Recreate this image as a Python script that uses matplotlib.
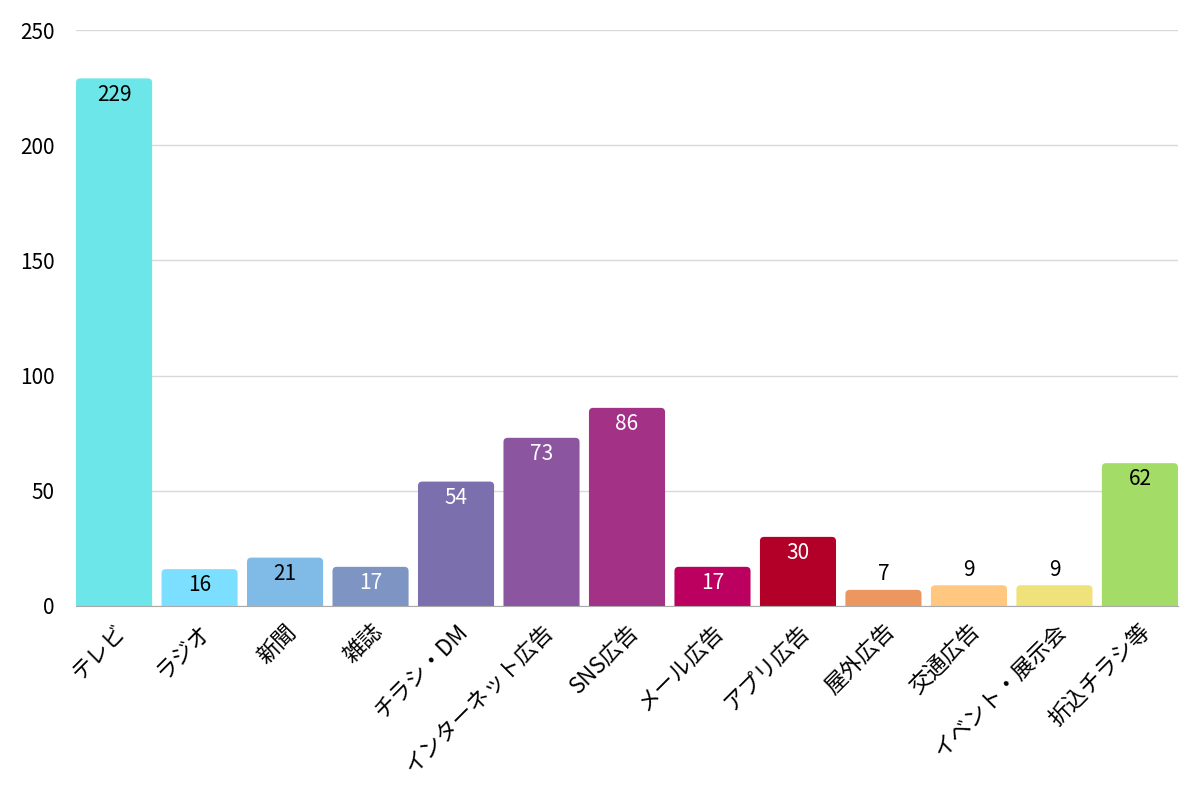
import matplotlib
matplotlib.use('Agg')
import matplotlib.pyplot as plt
from matplotlib.patches import FancyBboxPatch

plt.rcParams['font.family'] = ['Noto Sans CJK JP', 'DejaVu Sans']

categories = ['テレビ', 'ラジオ', '新聞', '雑誌', 'チラシ・DM', 'インターネット広告', 'SNS広告',
              'メール広告', 'アプリ広告', '屋外広告', '交通広告', 'イベント・展示会', '折込チラシ等']
values = [229, 16, 21, 17, 54, 73, 86, 17, 30, 7, 9, 9, 62]
colors = ['#6ce6e8', '#7ddfff', '#80bbe8', '#7e95c4', '#7b70ad', '#8c55a0', '#a33287',
          '#bb0060', '#b20029', '#ec9660', '#ffc77f', '#efe27a', '#a3dc66']
label_colors = ['black', 'black', 'black', 'white', 'white', 'white', 'white',
                'white', 'white', 'black', 'black', 'black', 'black']

fig = plt.figure(figsize=(12, 8), dpi=100)
ax = fig.add_axes([0.063, 0.2425, 0.919, 0.72])

x = range(len(categories))
bars = ax.bar(x, values, width=0.89, color=colors, zorder=2)

# swap plain bars for ones with rounded top corners; bottom part is clipped by the axes
for b, c in zip(bars, colors):
    b.set_visible(False)
    x0, w, h = b.get_x(), b.get_width(), b.get_height()
    ax.add_patch(FancyBboxPatch((x0, -6), w, h + 6,
                                boxstyle='round,pad=0,rounding_size=0.05',
                                mutation_aspect=37, fc=c, ec='none', zorder=2))

for i, v in enumerate(values):
    if v < 12:
        ax.text(i, v + 2, str(v), ha='center', va='bottom', fontsize=15, color='black', zorder=3)
    else:
        ax.text(i, v - 2.3, str(v), ha='center', va='top', fontsize=15, color=label_colors[i], zorder=3)

ax.set_xlim(-0.45, 12.45)
ax.set_ylim(0, 250)
ax.set_yticks([0, 50, 100, 150, 200, 250])
ax.set_xticks(list(x))
ax.set_xticklabels(categories, rotation=45, ha='right', rotation_mode='anchor', fontsize=16)
ax.tick_params(axis='y', length=0, labelsize=15, pad=15)
ax.tick_params(axis='x', length=0, pad=10)
ax.grid(axis='y', color='#d9d9d9', linewidth=1, zorder=0)
ax.set_axisbelow(True)
for s in ['top', 'right', 'left']:
    ax.spines[s].set_visible(False)
ax.spines['bottom'].set_color('#aaaaaa')
ax.spines['bottom'].set_zorder(3)

fig.savefig('out.png', dpi=100)
